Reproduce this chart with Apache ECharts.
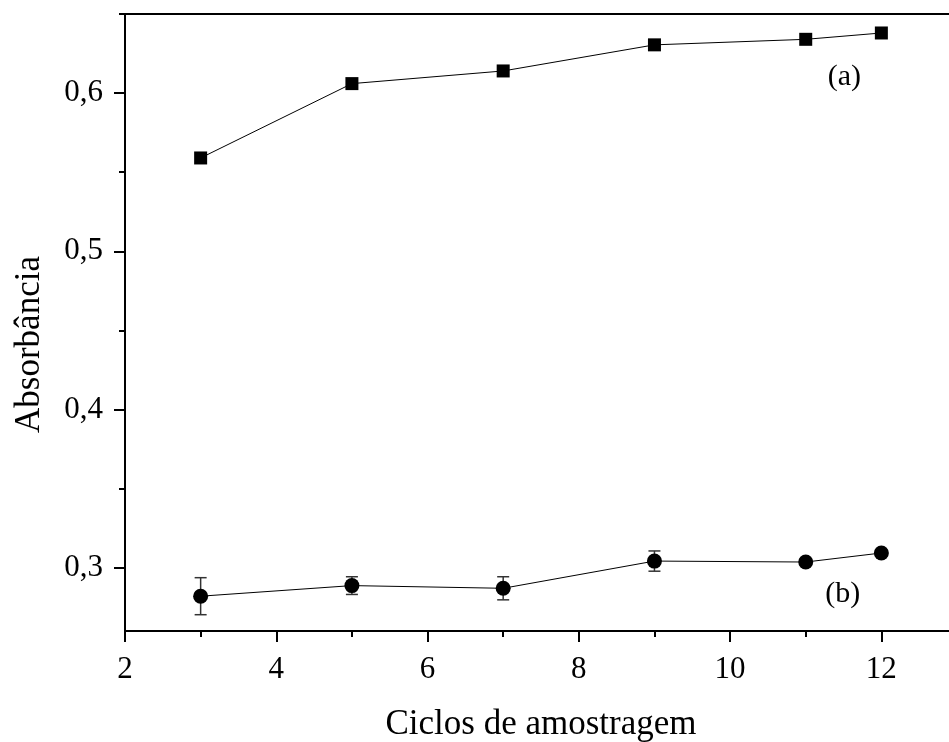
<!DOCTYPE html>
<html>
<head>
<meta charset="utf-8">
<script src="https://cdn.jsdelivr.net/npm/echarts@6/dist/echarts.min.js"></script>
<style>html,body{margin:0;padding:0;background:#fff;overflow:hidden;}#chart{width:949px;height:742px;}</style>
</head>
<body>
<div id="chart"></div>
<script>
const xValues = [3, 5, 7, 9, 11, 12];
const seriesA = [0.559, 0.606, 0.614, 0.6305, 0.634, 0.638];
const seriesB = [0.282, 0.2887, 0.287, 0.3042, 0.3036, 0.3093];
const errorB = [0.0117, 0.0056, 0.0073, 0.0064, 0.002, 0.002];
const xMajorTicks = [2, 4, 6, 8, 10, 12];
const xMinorTicks = [3, 5, 7, 9, 11, 13];
const yMajorTicks = [0.3, 0.4, 0.5, 0.6];
const yMinorTicks = [0.35, 0.45, 0.55, 0.65];
const seriesLabels = ['(a)', '(b)'];
const xTitle = 'Ciclos de amostragem';
const yTitle = 'Absorbância';

const font = 'Liberation Serif';
const chart = echarts.init(document.getElementById('chart'));

const errData = xValues.map((x, i) => [x, seriesB[i] - errorB[i], seriesB[i] + errorB[i]]);

const baseX = { type: 'value', min: 2, max: 13, splitLine: { show: false } };
const baseY = { type: 'value', min: 0.26, max: 0.65, splitLine: { show: false } };

chart.setOption({
  animation: false,
  backgroundColor: '#fff',
  grid: { left: 125, top: 14, height: 617, width: 832, outerBoundsMode: 'none', show: true, borderColor: '#000', borderWidth: 2, containLabel: false },
  xAxis: [
    Object.assign({}, baseX, {
      position: 'bottom',
      name: xTitle, nameLocation: 'middle', nameGap: 76,
      nameTextStyle: { fontFamily: font, fontSize: 35, color: '#000' },
      axisLine: { show: true, lineStyle: { color: '#000', width: 2 } },
      axisTick: { show: true, customValues: xMajorTicks, length: 11, lineStyle: { color: '#000', width: 2 } },
      axisLabel: { show: true, customValues: xMajorTicks, margin: 23, fontFamily: font, fontSize: 31, color: '#000' }
    }),
    Object.assign({}, baseX, {
      position: 'bottom',
      axisLine: { show: false },
      axisTick: { show: true, customValues: xMinorTicks, length: 6, lineStyle: { color: '#000', width: 2 } },
      axisLabel: { show: false }
    })
  ],
  yAxis: [
    Object.assign({}, baseY, {
      position: 'left',
      name: yTitle, nameLocation: 'middle', nameGap: 78,
      nameTextStyle: { fontFamily: font, fontSize: 35, color: '#000', padding: [0, 44, 0, 0] },
      axisLine: { show: true, lineStyle: { color: '#000', width: 2 } },
      axisTick: { show: true, customValues: yMajorTicks, length: 11, lineStyle: { color: '#000', width: 2 } },
      axisLabel: { show: true, customValues: yMajorTicks, margin: 22, fontFamily: font, fontSize: 31, color: '#000',
        formatter: v => v.toFixed(1).replace('.', ',') }
    }),
    Object.assign({}, baseY, {
      position: 'left',
      axisLine: { show: false },
      axisTick: { show: true, customValues: yMinorTicks, length: 6, lineStyle: { color: '#000', width: 2 } },
      axisLabel: { show: false }
    })
  ],
  series: [
    {
      type: 'custom',
      xAxisIndex: 0, yAxisIndex: 0,
      z: 1,
      data: errData,
      encode: { x: 0, y: [1, 2] },
      renderItem: function (params, api) {
        const x = api.value(0);
        const lo = api.coord([x, api.value(1)]);
        const hi = api.coord([x, api.value(2)]);
        const w = 6;
        const st = { stroke: '#333', lineWidth: 1.5 };
        return {
          type: 'group',
          children: [
            { type: 'line', shape: { x1: lo[0], y1: lo[1], x2: hi[0], y2: hi[1] }, style: st },
            { type: 'line', shape: { x1: lo[0] - w, y1: lo[1], x2: lo[0] + w, y2: lo[1] }, style: st },
            { type: 'line', shape: { x1: hi[0] - w, y1: hi[1], x2: hi[0] + w, y2: hi[1] }, style: st }
          ]
        };
      }
    },
    {
      type: 'line',
      name: seriesLabels[0],
      z: 3,
      data: xValues.map((x, i) => [x, seriesA[i]]),
      symbol: 'rect', symbolSize: 13,
      lineStyle: { color: '#000', width: 1 },
      itemStyle: { color: '#000' },
      markPoint: {
        symbol: 'circle', symbolSize: 0,
        label: { show: true, formatter: seriesLabels[0], fontFamily: font, fontSize: 30, color: '#000', position: 'inside' },
        data: [{ coord: [11.51, 0.610] }]
      }
    },
    {
      type: 'line',
      name: seriesLabels[1],
      z: 3,
      data: xValues.map((x, i) => [x, seriesB[i]]),
      symbol: 'circle', symbolSize: 15,
      lineStyle: { color: '#000', width: 1 },
      itemStyle: { color: '#000' },
      markPoint: {
        symbol: 'circle', symbolSize: 0,
        label: { show: true, formatter: seriesLabels[1], fontFamily: font, fontSize: 30, color: '#000', position: 'inside' },
        data: [{ coord: [11.49, 0.2835] }]
      }
    }
  ]
});
</script>
</body>
</html>
